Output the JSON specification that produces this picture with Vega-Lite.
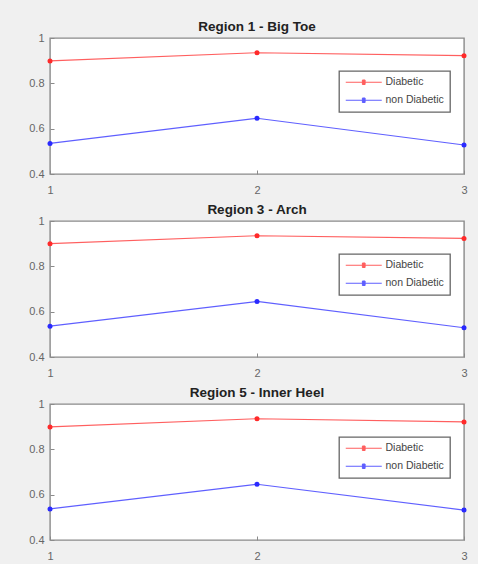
{
  "$schema": "https://vega.github.io/schema/vega-lite/v6.json",
  "background": "#f0f0f0",
  "padding": {"left": 28, "top": 18, "right": 10, "bottom": 2},
  "spacing": 5,
  "datasets": {
    "d": [
      {"region": "Region 1 - Big Toe", "group": "Diabetic", "x": 1, "value": 0.899},
      {"region": "Region 1 - Big Toe", "group": "Diabetic", "x": 2, "value": 0.935},
      {"region": "Region 1 - Big Toe", "group": "Diabetic", "x": 3, "value": 0.922},
      {"region": "Region 1 - Big Toe", "group": "non Diabetic", "x": 1, "value": 0.535},
      {"region": "Region 1 - Big Toe", "group": "non Diabetic", "x": 2, "value": 0.646},
      {"region": "Region 1 - Big Toe", "group": "non Diabetic", "x": 3, "value": 0.528},
      {"region": "Region 3 - Arch", "group": "Diabetic", "x": 1, "value": 0.9},
      {"region": "Region 3 - Arch", "group": "Diabetic", "x": 2, "value": 0.935},
      {"region": "Region 3 - Arch", "group": "Diabetic", "x": 3, "value": 0.923},
      {"region": "Region 3 - Arch", "group": "non Diabetic", "x": 1, "value": 0.536},
      {"region": "Region 3 - Arch", "group": "non Diabetic", "x": 2, "value": 0.645},
      {"region": "Region 3 - Arch", "group": "non Diabetic", "x": 3, "value": 0.529},
      {"region": "Region 5 - Inner Heel", "group": "Diabetic", "x": 1, "value": 0.899},
      {"region": "Region 5 - Inner Heel", "group": "Diabetic", "x": 2, "value": 0.935},
      {"region": "Region 5 - Inner Heel", "group": "Diabetic", "x": 3, "value": 0.921},
      {"region": "Region 5 - Inner Heel", "group": "non Diabetic", "x": 1, "value": 0.537},
      {"region": "Region 5 - Inner Heel", "group": "non Diabetic", "x": 2, "value": 0.646},
      {"region": "Region 5 - Inner Heel", "group": "non Diabetic", "x": 3, "value": 0.532}
    ]
  },
  "vconcat": [
    {
      "data": {"name": "d"},
      "transform": [{"filter": "datum.region == 'Region 1 - Big Toe'"}],
      "title": {"text": "Region 1 - Big Toe"},
      "width": 414, "height": 136,
      "layer": [
        {
          "mark": {"type": "line", "strokeWidth": 1.2, "opacity": 0.75},
          "encoding": {
            "x": {"field": "x", "type": "ordinal", "scale": {"type": "point", "padding": 0}, "axis": {"labelAngle": 0, "labelOverlap": false, "labelPadding": 14}},
            "y": {"field": "value", "type": "quantitative", "scale": {"domain": [0.4, 1], "nice": false, "zero": false}, "axis": {"values": [0.4, 0.6, 0.8, 1], "format": "~g", "labelOverlap": false}},
            "color": {"field": "group", "type": "nominal", "scale": {"domain": ["Diabetic", "non Diabetic"], "range": ["#ff2a2a", "#2a2aff"]},
              "legend": {"orient": "none", "legendX": 289, "legendY": 33}}
          }
        },
        {
          "mark": {"type": "point", "filled": true, "size": 25, "opacity": 1},
          "encoding": {
            "x": {"field": "x", "type": "ordinal"},
            "y": {"field": "value", "type": "quantitative"},
            "color": {"field": "group", "type": "nominal"}
          }
        }
      ]
    },
    {
      "data": {"name": "d"},
      "transform": [{"filter": "datum.region == 'Region 3 - Arch'"}],
      "title": {"text": "Region 3 - Arch"},
      "width": 414, "height": 136,
      "layer": [
        {
          "mark": {"type": "line", "strokeWidth": 1.2, "opacity": 0.75},
          "encoding": {
            "x": {"field": "x", "type": "ordinal", "scale": {"type": "point", "padding": 0}, "axis": {"labelAngle": 0, "labelOverlap": false, "labelPadding": 14}},
            "y": {"field": "value", "type": "quantitative", "scale": {"domain": [0.4, 1], "nice": false, "zero": false}, "axis": {"values": [0.4, 0.6, 0.8, 1], "format": "~g", "labelOverlap": false}},
            "color": {"field": "group", "type": "nominal", "scale": {"domain": ["Diabetic", "non Diabetic"], "range": ["#ff2a2a", "#2a2aff"]},
              "legend": {"orient": "none", "legendX": 289, "legendY": 33}}
          }
        },
        {
          "mark": {"type": "point", "filled": true, "size": 25, "opacity": 1},
          "encoding": {
            "x": {"field": "x", "type": "ordinal"},
            "y": {"field": "value", "type": "quantitative"},
            "color": {"field": "group", "type": "nominal"}
          }
        }
      ]
    },
    {
      "data": {"name": "d"},
      "transform": [{"filter": "datum.region == 'Region 5 - Inner Heel'"}],
      "title": {"text": "Region 5 - Inner Heel"},
      "width": 414, "height": 136,
      "layer": [
        {
          "mark": {"type": "line", "strokeWidth": 1.2, "opacity": 0.75},
          "encoding": {
            "x": {"field": "x", "type": "ordinal", "scale": {"type": "point", "padding": 0}, "axis": {"labelAngle": 0, "labelOverlap": false, "labelPadding": 14}},
            "y": {"field": "value", "type": "quantitative", "scale": {"domain": [0.4, 1], "nice": false, "zero": false}, "axis": {"values": [0.4, 0.6, 0.8, 1], "format": "~g", "labelOverlap": false}},
            "color": {"field": "group", "type": "nominal", "scale": {"domain": ["Diabetic", "non Diabetic"], "range": ["#ff2a2a", "#2a2aff"]},
              "legend": {"orient": "none", "legendX": 289, "legendY": 33}}
          }
        },
        {
          "mark": {"type": "point", "filled": true, "size": 25, "opacity": 1},
          "encoding": {
            "x": {"field": "x", "type": "ordinal"},
            "y": {"field": "value", "type": "quantitative"},
            "color": {"field": "group", "type": "nominal"}
          }
        }
      ]
    }
  ],
  "resolve": {"legend": {"color": "independent"}, "scale": {"color": "independent"}},
  "config": {
    "view": {"stroke": "#8a8a8a", "strokeWidth": 1.4, "fill": "white"},
    "title": {"font": "Liberation Sans", "fontSize": 13.5, "fontWeight": "bold", "color": "#222", "offset": -1, "anchor": "middle"},
    "axis": {"domain": false, "grid": false, "title": null, "tickColor": "#8a8a8a", "tickSize": -4, "tickWidth": 1, "labelColor": "#666", "labelFont": "Liberation Sans", "labelFontSize": 11, "labelPadding": 10},
    "legend": {
      "title": null,
      "fillColor": "white", "strokeColor": "#666", "strokeWidth": 1.3, "padding": 6,
      "symbolType": "M-1,0L7,0M2.7,-0.5L3.3,-0.5L3.3,0.5L2.7,0.5Z",
      "symbolSize": 81, "symbolStrokeWidth": 1,
      "labelFont": "Liberation Sans", "labelFontSize": 10.5, "labelColor": "#444", "labelOffset": 30,
      "rowPadding": 7
    }
  }
}
